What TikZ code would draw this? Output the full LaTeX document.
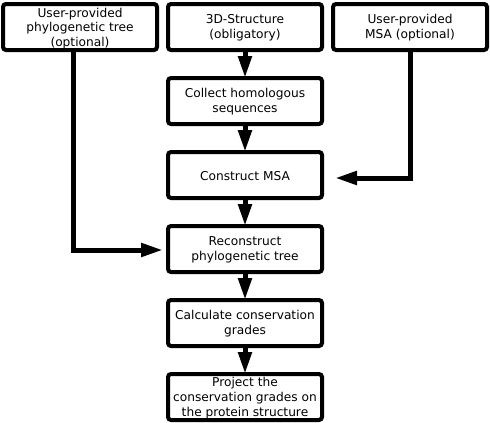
\documentclass[tikz,border=0pt]{standalone}
\usepackage{fontspec}
\setmainfont{DejaVu Sans}
\usetikzlibrary{arrows.meta}
\begin{document}
\begin{tikzpicture}[x=1pt,y=-1pt,
  box/.style={draw=black,line width=4pt,rounded corners=3pt,fill=white},
  lbl/.style={align=center,font=\fontsize{12.2}{14.8}\selectfont},
  flow/.style={line width=5pt,-{Triangle[length=22pt,width=13pt]}}]
\useasboundingbox (0,0) rectangle (490,423);
% boxes
\draw[box] (3,4) rectangle (157,50);
\node[lbl] (tree) at (80,28.5) {User-provided\\phylogenetic tree\\(optional)};
\coordinate (treeB) at (73,50);
\draw[box] (168,4) rectangle (322,50);
\node[lbl] (struct) at (245,28) {3D-Structure\\(obligatory)};
\coordinate (structB) at (245,50);
\draw[box] (333,4) rectangle (487,50);
\node[lbl] (umsa) at (410,28) {User-provided\\MSA (optional)};
\coordinate (umsaB) at (410,50);

\draw[box] (168,78) rectangle (322,124);
\node[lbl] (collect) at (245,102) {Collect homologous\\sequences};
\draw[box] (168,152) rectangle (322,198);
\node[lbl] (msa) at (245,176) {Construct MSA};
\draw[box] (168,226) rectangle (322,272);
\node[lbl] (recon) at (245,250) {Reconstruct\\phylogenetic tree};
\draw[box] (168,300) rectangle (322,346);
\node[lbl] (calc) at (245,324) {Calculate conservation\\grades};
\draw[box] (168,374) rectangle (322,420);
\node[lbl] (proj) at (245,398) {Project the\\conservation grades on\\the protein structure};

\coordinate (collectT) at (245,78);
\coordinate (collectB) at (245,124);
\coordinate (msaT) at (245,152);
\coordinate (msaB) at (245,198);
\coordinate (reconT) at (245,226);
\coordinate (reconB) at (245,272);
\coordinate (calcT) at (245,300);
\coordinate (calcB) at (245,346);
\coordinate (projT) at (245,374);
\coordinate (reconL) at (163,250);
\coordinate (msaR) at (335,178);

\draw[flow] (structB) -- (collectT);
\draw[flow] (collectB) -- (msaT);
\draw[flow] (msaB) -- (reconT);
\draw[flow] (reconB) -- (calcT);
\draw[flow] (calcB) -- (projT);
\draw[flow,line join=miter] (treeB) |- (reconL);
\draw[flow,line join=miter] (umsaB) |- (msaR);
\end{tikzpicture}
\end{document}
